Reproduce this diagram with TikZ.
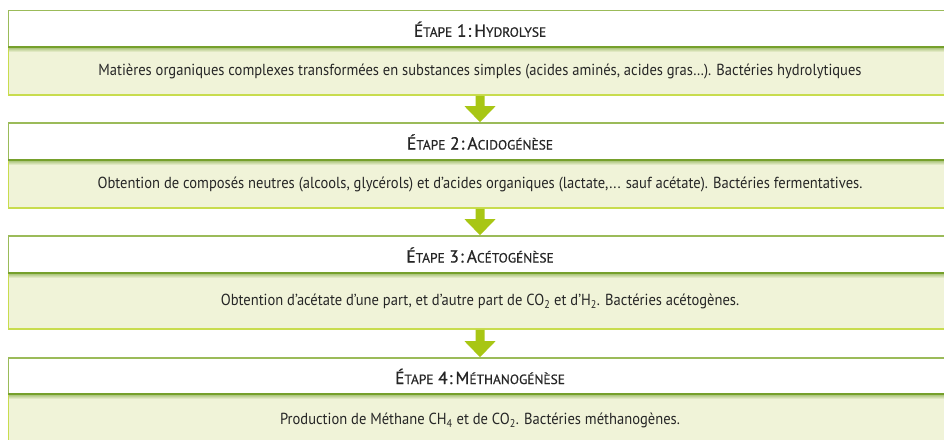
\documentclass[tikz,border=0pt]{standalone}
\usepackage{fontspec}
\usetikzlibrary{calc}
\setmainfont{PT Sans}[FakeStretch=0.91]
\newfontfamily\headfont{PT Sans}[FakeBold=0.6]
\definecolor{hdline}{HTML}{9BBB59}
\definecolor{hdbottom}{HTML}{76A02C}
\definecolor{bodyfill}{HTML}{F0F3D8}
\definecolor{bodyline}{HTML}{C8DC4E}
\definecolor{arrowgreen}{HTML}{A8C614}
\definecolor{inkgray}{HTML}{262626}
% small capitals built by hand: first letter full size, the rest smaller
\newcommand{\smcap}[2]{#1{\fontsize{13.4}{15}\selectfont #2}}
\newcommand{\stagehead}[3]{\headfont\fontsize{17.5}{19}\selectfont\smcap{É}{TAPE}\ #1\hspace{1pt}:\hspace{3pt}\smcap{#2}{#3}}
\tikzset{
  x=1pt, y=-1pt,
  headtext/.style={text=inkgray, inner sep=0pt, anchor=center},
  bodytext/.style={text=inkgray, inner sep=0pt, anchor=center, font=\fontsize{16}{18}\selectfont},
}
% one stage: #1 top, #2 header/body boundary, #3 bottom, #4 name, #5 heading, #6 body text, #7 text offset
\newcommand{\stage}[7]{%
  \fill[bodyfill] (8,#2) rectangle (960,#3);
  \shade[top color=hdbottom!70, bottom color=bodyfill] (8,#2) rectangle (960,#2+5);
  \draw[bodyline, line width=1.4pt] (8,#3) -- (960,#3);
  \draw[bodyline, line width=1.2pt] (8.2,#2) -- (8.2,#3);
  \draw[hdline, line width=1.2pt] (960,#1) -- (8.2,#1) -- (8.2,#2);
  \draw[hdbottom, line width=1.4pt] (8,#2) -- (960,#2);
  \node[headtext] (#4h) at (480,{(#1+#2)/2+0.5}) {#5};
  \node[bodytext] (#4b) at (480,#2+#7) {#6};
  \coordinate (#4top) at (480,#1);
  \coordinate (#4bot) at (480,#3);
}
\begin{document}
\begin{tikzpicture}
\useasboundingbox (0,0) rectangle (944,439);
\clip (0,0) rectangle (944,439);
\stage{10.5}{47}{95}{s1}{\stagehead{1}{H}{YDROLYSE}}
  {Matières organiques complexes transformées en substances simples (acides aminés, acides gras…). Bactéries hydrolytiques}{24.5}
\stage{123}{160}{208}{s2}{\stagehead{2}{A}{CIDOGÉNÈSE}}
  {Obtention de composés neutres (alcools, glycérols) et d’acides organiques (lactate,... sauf acétate). Bactéries fermentatives.}{24.5}
\stage{236}{273}{329}{s3}{\stagehead{3}{A}{CÉTOGÉNÈSE}}
  {Obtention d’acétate d’une part, et d’autre part de CO\textsubscript{2} et d’H\textsubscript{2}. Bactéries acétogènes.}{28.5}
\stage{358}{394}{470}{s4}{\stagehead{4}{M}{ÉTHANOGÉNÈSE}}
  {Production de Méthane CH\textsubscript{4} et de CO\textsubscript{2}. Bactéries méthanogènes.}{26.5}
% block arrows between the stages
\foreach \a/\b in {s1/s2, s2/s3, s3/s4}{
  \path (\a bot) ++(0,0.8) coordinate (st) (\b top) ++(0,-0.8) coordinate (tip);
  \fill[arrowgreen] ($(st)+(-4.5,0)$) -- ($(st)+(4.5,0)$) -- ($(tip)+(4.5,-16)$) -- ($(tip)+(15.5,-16)$)
    -- (tip) -- ($(tip)+(-15.5,-16)$) -- ($(tip)+(-4.5,-16)$) -- cycle;
}
\end{tikzpicture}
\end{document}
